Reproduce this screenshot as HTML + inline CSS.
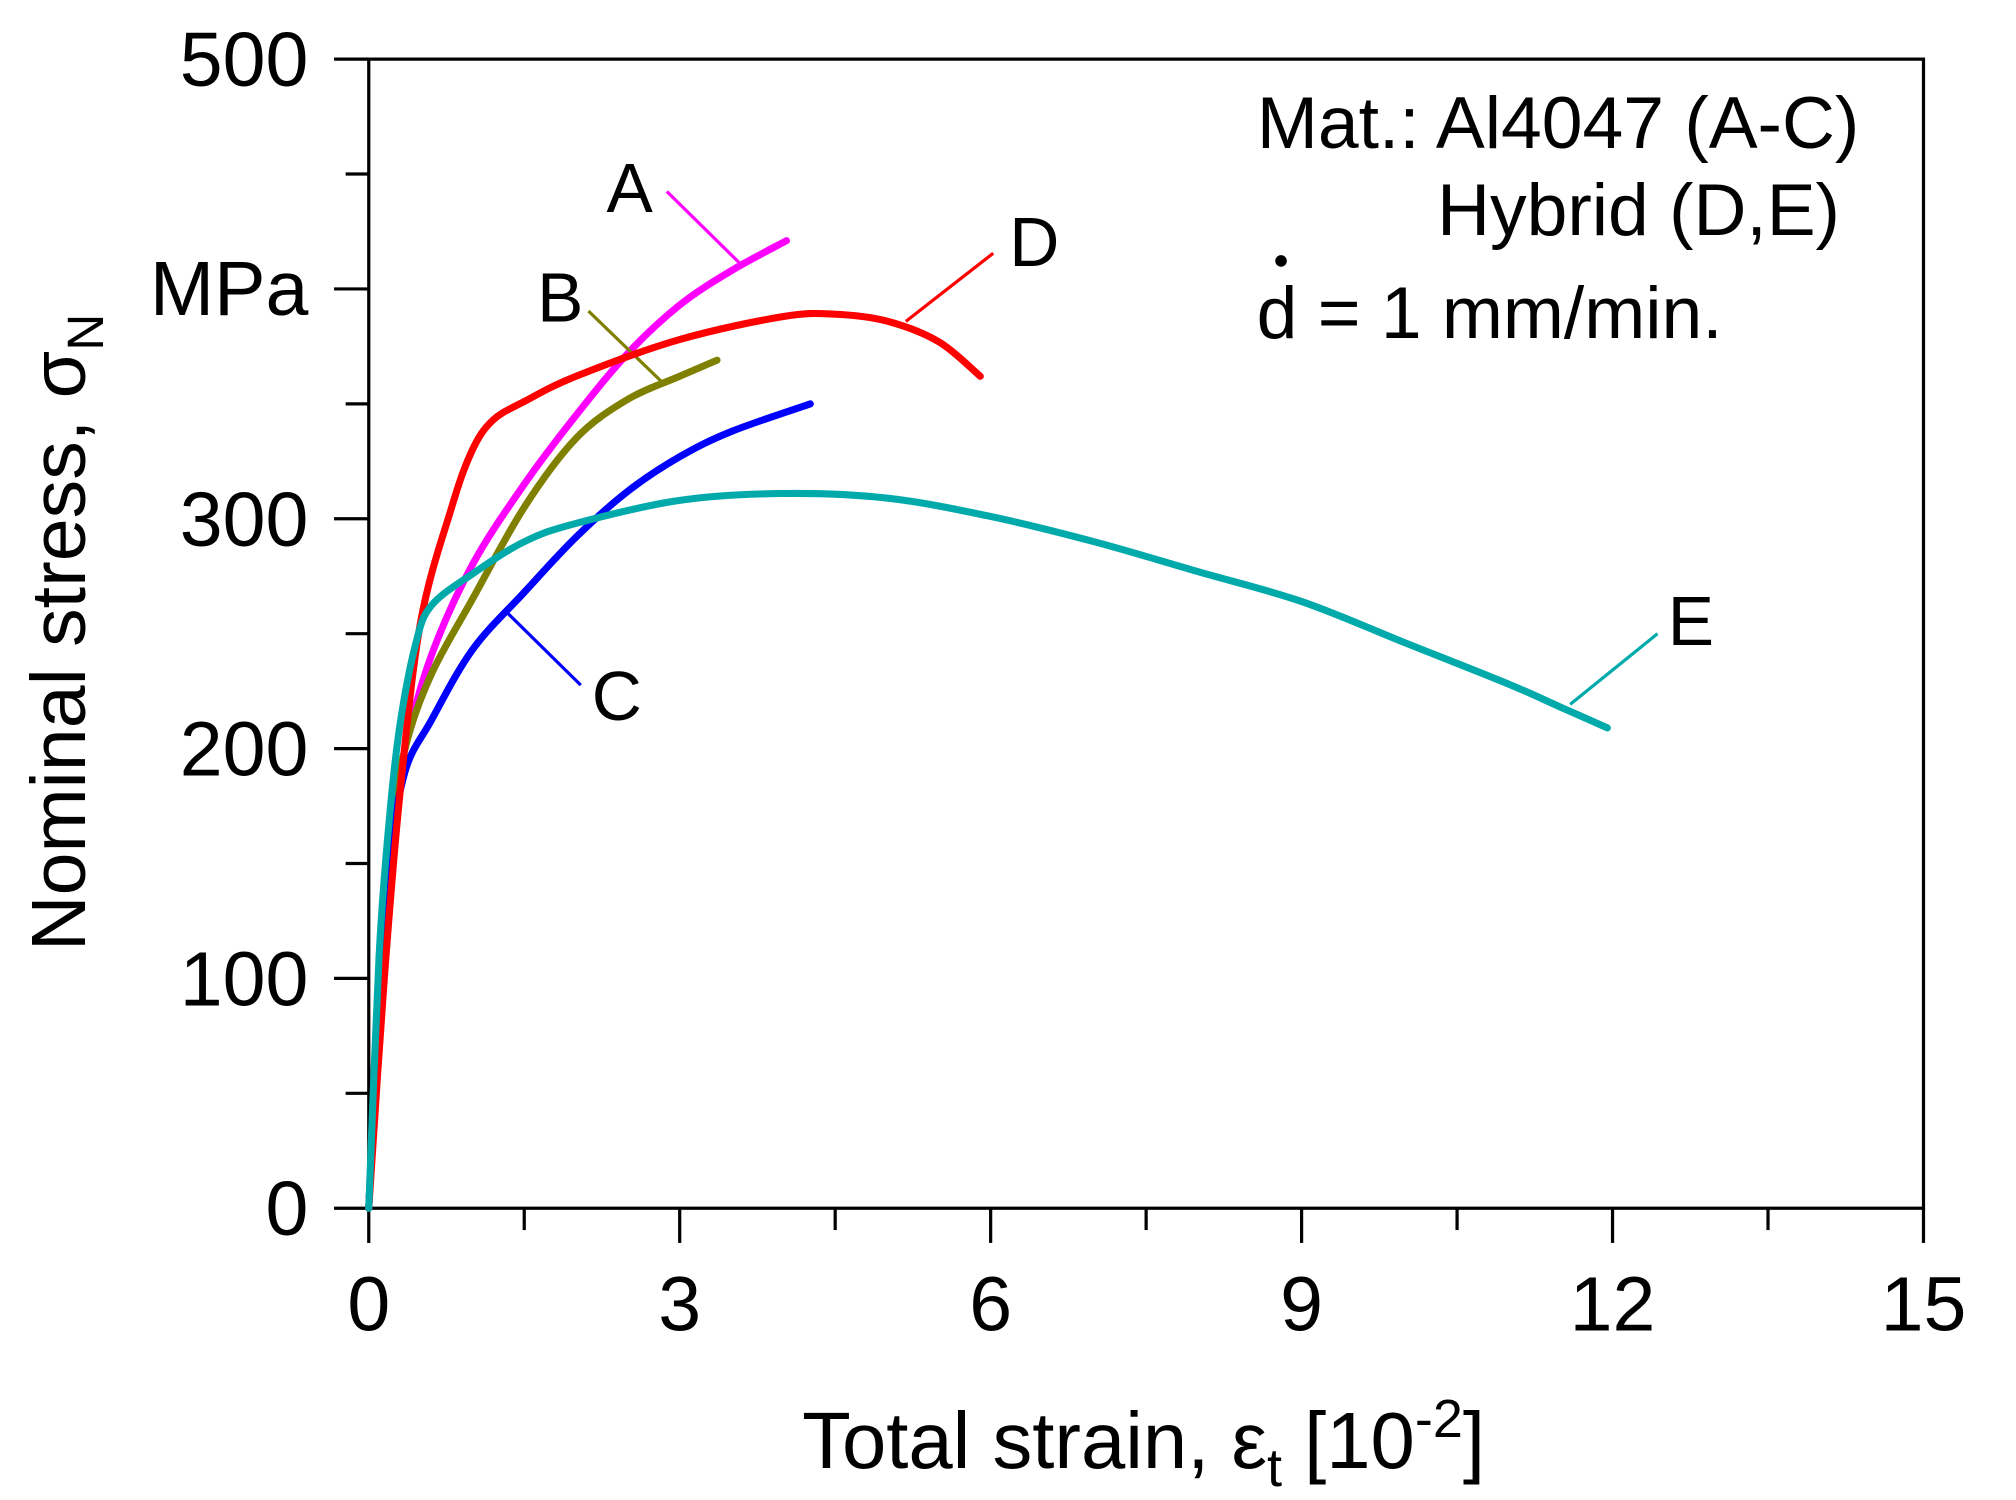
<!DOCTYPE html>
<html><head><meta charset="utf-8"><style>
html,body{margin:0;padding:0;background:#fff;}
svg{display:block;font-family:"Liberation Sans",sans-serif;}
</style></head><body>
<svg id="chart" width="2016" height="1500" viewBox="0 0 1569 1167" preserveAspectRatio="none" xmlns="http://www.w3.org/2000/svg">
<g id="axes"></g>
<g id="series"></g>
<g id="labels">
  <text x="240" y="245" font-size="60" text-anchor="end">MPa</text>
  <text transform="translate(66,492) rotate(-90)" font-size="60" text-anchor="middle">Nominal stress, σ<tspan font-size="40" dy="14">N</tspan></text>
  <text x="890" y="1142" font-size="62" text-anchor="middle">Total strain, ε<tspan font-size="42" dy="14">t</tspan><tspan dy="-14"> [10</tspan><tspan font-size="42" dy="-24">-2</tspan><tspan dy="24">]</tspan></text>
  <text x="1447" y="115" font-size="57" text-anchor="end">Mat.: Al4047 (A-C)</text>
  <text x="1432" y="183" font-size="57" text-anchor="end">Hybrid (D,E)</text>
  <text x="978" y="263" font-size="57">d = 1 mm/min.</text>
  <circle cx="997" cy="203" r="4.5" fill="#000"/>
</g>
</svg>
<script>
const xTicks=[0,3,6,9,12,15];
const yTicks=[0,100,200,300,400,500];
const seriesNames=['A','B','C','D','E'];
const seriesColors=['#ff00ff','#808000','#0000ff','#ff0000','#00aaaa'];
const strainA=[0,0.1,0.2,0.35,0.6,1,1.5,2,2.5,3,3.5,4.03];
const stressA=[0,90,160,200,240,280,315,345,372,393,408,421];
const strainB=[0,0.1,0.2,0.35,0.6,1,1.5,2,2.5,3,3.36];
const stressB=[0,90,160,200,232,265,305,335,352,362,369];
const strainC=[0,0.1,0.2,0.35,0.6,1,1.5,2,2.5,3,3.5,4.26];
const stressC=[0,90,150,190,212,243,268,292,312,327,338,350];
const strainD=[0,0.15,0.3,0.5,0.8,1,1.2,1.5,2,3,4,4.5,5,5.5,5.9];
const stressD=[0,100,180,255,305,330,343,351,362,378,388,389,386,377,362];
const strainE=[0,0.1,0.2,0.3,0.45,0.6,1,1.5,2,3,4,5,6,7,8,9,10,11,11.5,11.95];
const stressE=[0,110,170,210,245,262,276,290,298,308,311,309,301,290,277,264,246,228,218,209];
const leaderLines=[[519,149,578,207],[458,242,515,297],[452,533,393,475],[773,197,705,250],[1290,493,1222,548]];
const labelPos=[[490,165],[436,250],[480,560],[805,207],[1316,502]];
const NS='http://www.w3.org/2000/svg';
const X0=287,X1=1497,Y0=940,Y1=46;
function sx(v){return X0+(v-0)/(15-0)*(X1-X0);}
function sy(v){return Y0-(v-0)/(500-0)*(Y0-Y1);}
function mk(tag,attrs,parent){const e=document.createElementNS(NS,tag);for(const k in attrs)e.setAttribute(k,attrs[k]);parent.appendChild(e);return e;}
const axes=document.getElementById('axes');
const frame=mk('rect',{x:X0,y:Y1,width:X1-X0,height:Y0-Y1,fill:'none',stroke:'#000','stroke-width':2.5},axes);


xTicks.forEach((t,i)=>{
  const l=mk('line',{x1:sx(t),x2:sx(t),y1:Y0,y2:Y0+27,stroke:'#000','stroke-width':2.5},axes);
  
  
  if(i<xTicks.length-1){
    const m=mk('line',{x1:sx(t+1.5),x2:sx(t+1.5),y1:Y0,y2:Y0+17,stroke:'#000','stroke-width':2.5},axes);
    
    
  }
  const tx=mk('text',{x:sx(t),y:1035,'font-size':60,'text-anchor':'middle'},axes);
  tx.textContent=t;
  
  
});
yTicks.forEach((t,i)=>{
  const l=mk('line',{x1:X0-27,x2:X0,y1:sy(t),y2:sy(t),stroke:'#000','stroke-width':2.5},axes);
  
  
  if(i<yTicks.length-1){
    const m=mk('line',{x1:X0-18,x2:X0,y1:sy(t+50),y2:sy(t+50),stroke:'#000','stroke-width':2.5},axes);
    
    
  }
  if(t!==400){
    const tx=mk('text',{x:240,y:sy(t)+21,'font-size':60,'text-anchor':'end'},axes);
    tx.textContent=t;
    
    
  }
});
function smooth(xs,ys){
  const p=xs.map((x,i)=>[sx(x),sy(ys[i])]);
  let d='M'+p[0][0]+','+p[0][1];
  for(let i=0;i<p.length-1;i++){
    const a=p[Math.max(0,i-1)],b=p[i],c=p[i+1],e=p[Math.min(p.length-1,i+2)];
    const c1=[b[0]+(c[0]-a[0])/6,b[1]+(c[1]-a[1])/6];
    const c2=[c[0]-(e[0]-b[0])/6,c[1]-(e[1]-b[1])/6];
    d+=' C'+c1[0]+','+c1[1]+' '+c2[0]+','+c2[1]+' '+c[0]+','+c[1];
  }
  return d;
}
const data=[[strainA,stressA],[strainB,stressB],[strainC,stressC],[strainD,stressD],[strainE,stressE]];
const sg=document.getElementById('series');
data.forEach((s,i)=>{
  const p=mk('path',{d:smooth(s[0],s[1]),fill:'none',stroke:seriesColors[i],'stroke-width':5.5,'stroke-linejoin':'round','stroke-linecap':'round'},sg);
  
  
  const ll=leaderLines[i];
  const l=mk('line',{x1:ll[0],y1:ll[1],x2:ll[2],y2:ll[3],stroke:seriesColors[i],'stroke-width':2.5},sg);
  
  
  const t=mk('text',{x:labelPos[i][0],y:labelPos[i][1],'font-size':54,'text-anchor':'middle'},sg);
  t.textContent=seriesNames[i];
  
  
});
</script>
</body></html>
